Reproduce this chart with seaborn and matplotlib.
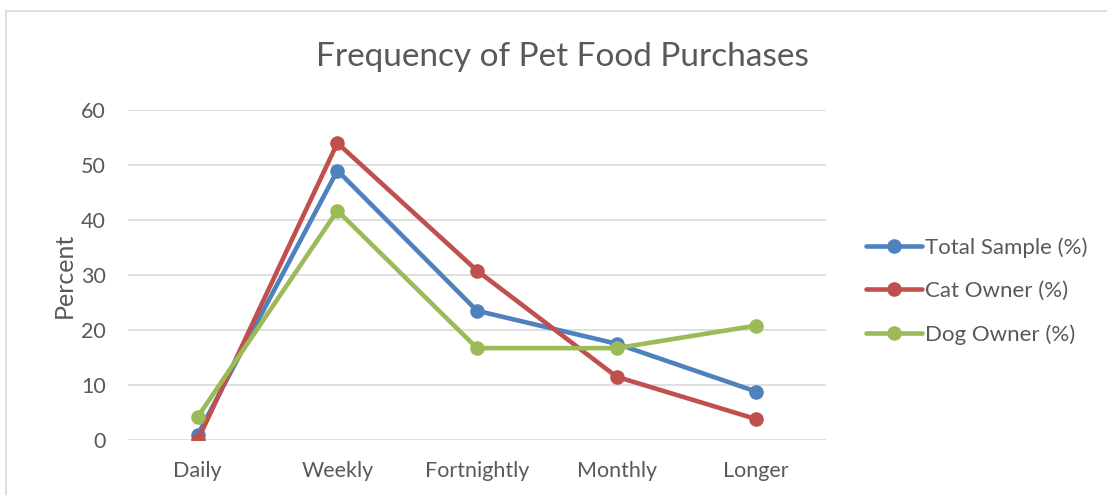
import numpy as np
import pandas as pd
import seaborn as sns
import matplotlib.pyplot as plt
from matplotlib.lines import Line2D

# Data
categories = ['Daily', 'Weekly', 'Fortnightly', 'Monthly', 'Longer']
total_sample = [1.0, 49.0, 23.5, 17.5, 8.8]
cat_owner = [0.0, 54.0, 30.8, 11.5, 3.8]
dog_owner = [4.2, 41.7, 16.7, 16.7, 20.8]
series_names = ['Total Sample (%)', 'Cat Owner (%)', 'Dog Owner (%)']
colors = ['#4F81BD', '#C0504D', '#9BBB59']

df = pd.DataFrame({
    'Frequency': categories * 3,
    'Percent': total_sample + cat_owner + dog_owner,
    'Series': np.repeat(series_names, len(categories)),
})

sns.set_theme(style='white')
plt.rcParams['font.family'] = ['Lato', 'DejaVu Sans']
text_col = '#595959'

fig = plt.figure(figsize=(11.07, 4.95), dpi=100)
ax = fig.add_axes([128 / 1107, 1 - 440 / 495, 698 / 1107, 330 / 495])

sns.lineplot(data=df, x='Frequency', y='Percent', hue='Series', palette=colors,
             marker='o', markersize=10.5, markeredgewidth=0, linewidth=3.3,
             sort=False, ax=ax, legend=False)

ax.set_xlim(-0.5, 4.5)
ax.set_ylim(0, 60)
ax.set_yticks(range(0, 61, 10))
ax.yaxis.grid(True, color='#D9D9D9', linewidth=1.2)
ax.set_axisbelow(True)
for s in ax.spines.values():
    s.set_visible(False)
ax.tick_params(axis='both', length=0, labelsize=15.5, labelcolor=text_col)
ax.tick_params(axis='y', pad=16)
ax.tick_params(axis='x', pad=15)
ax.set_xlabel('')
ax.set_ylabel('Percent', fontsize=18, color=text_col, labelpad=4)

fig.text(562 / 1107, 1 - 57 / 495, 'Frequency of Pet Food Purchases',
         ha='center', va='center', fontsize=24, color=text_col)

handles = [Line2D([0], [0], color=c, linewidth=3.3, marker='o', markersize=10.5,
                  markeredgewidth=0) for c in colors]
fig.legend(handles, series_names, loc='center left',
           bbox_to_anchor=(866 / 1107, 1 - 291 / 495), frameon=False,
           fontsize=16, labelcolor=text_col, handlelength=2.5,
           handletextpad=0.15, labelspacing=1.05, borderpad=0,
           borderaxespad=0)

# chart frame (top and left edges visible in the reference)
fig.add_artist(Line2D([6 / 1107, 6 / 1107], [0, 1 - 11 / 495],
                      transform=fig.transFigure, color='#D9D9D9', linewidth=1.2))
fig.add_artist(Line2D([6 / 1107, 1], [1 - 11 / 495, 1 - 11 / 495],
                      transform=fig.transFigure, color='#D9D9D9', linewidth=1.2))

fig.savefig('out.png', dpi=100, facecolor='white')
